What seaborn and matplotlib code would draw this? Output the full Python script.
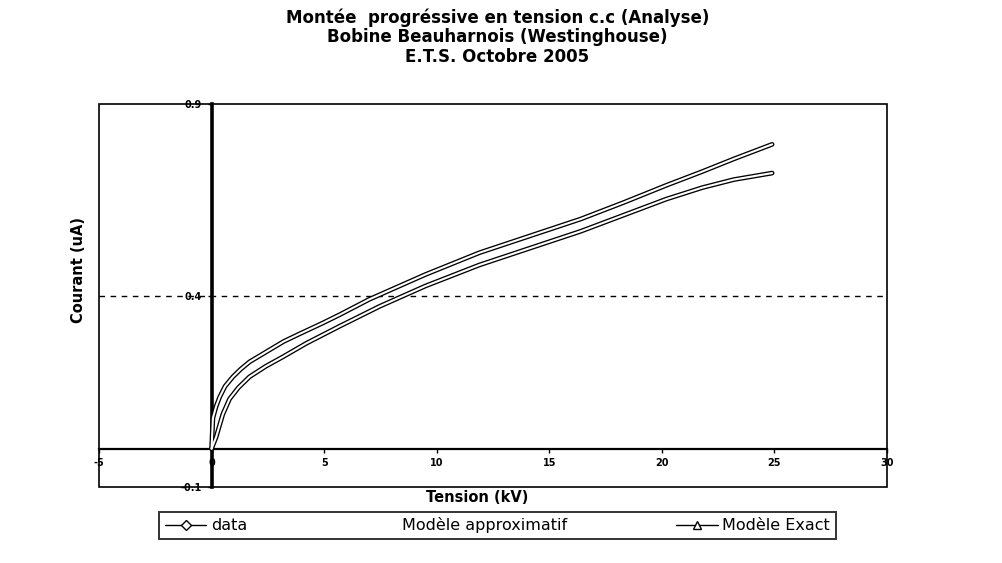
import numpy as np
import pandas as pd
import matplotlib
matplotlib.use("Agg")
import matplotlib.pyplot as plt
import seaborn as sns
from matplotlib.lines import Line2D
from matplotlib.patches import Rectangle

# values
tension_data = [0, 0.06, 0.2, 0.36, 0.6, 0.95, 1.3, 1.69, 2.43, 3.2, 3.91, 4.93,
                5.69, 7.0, 9.5, 11.9, 14.2, 16.4, 18.3, 20.2, 21.8, 23.2, 24.9]
courant_data = [0.0, 0.08, 0.11, 0.135, 0.163, 0.188, 0.208, 0.227, 0.253, 0.28,
                0.30, 0.328, 0.35, 0.39, 0.455, 0.512, 0.557, 0.60, 0.643, 0.688,
                0.724, 0.757, 0.795]
tension_exact = [0, 0.2, 0.5, 0.8, 1.2, 1.69, 2.4, 3.17, 4.2, 5.69, 7.47, 9.5,
                 11.9, 14.2, 16.4, 18.3, 20.2, 21.8, 23.2, 24.9]
courant_exact = [0.0, 0.03, 0.09, 0.13, 0.16, 0.188, 0.215, 0.24, 0.275, 0.32,
                 0.372, 0.425, 0.48, 0.525, 0.568, 0.61, 0.652, 0.682, 0.703, 0.72]
x_ticks = [-5, 0, 5, 10, 15, 20, 25, 30]
y_ticks = [-0.1, 0.4, 0.9]

df_data = pd.DataFrame({"Tension": tension_data, "Courant": courant_data})
df_exact = pd.DataFrame({"Tension": tension_exact, "Courant": courant_exact})

sns.set_style("white")
plt.rcParams['font.family'] = ['DejaVu Sans']
plt.rcParams['text.color'] = 'black'
plt.rcParams['xtick.color'] = 'black'
plt.rcParams['ytick.color'] = 'black'

fig = plt.figure(figsize=(10.03, 5.63), dpi=100)
ax = fig.add_axes([0.0987, 0.135, 0.7856, 0.68])

# hollow "tube" look of the scanned lines: black stroke, white core
for d in [df_exact, df_data]:
    sns.lineplot(data=d, x="Tension", y="Courant", ax=ax, color="black", lw=3.4,
                 solid_capstyle="round", solid_joinstyle="round", zorder=3)
    sns.lineplot(data=d, x="Tension", y="Courant", ax=ax, color="white", lw=1.5,
                 solid_capstyle="round", solid_joinstyle="round", zorder=4)

ax.set_xlim(-5, 30)
ax.set_ylim(-0.1, 0.9)
ax.axhline(0.4, color="black", lw=1, ls=(0, (4, 4)), zorder=1)

# axes crossing at zero, like Excel
ax.spines["left"].set_position(("data", 0))
ax.spines["bottom"].set_position(("data", 0))
ax.spines["left"].set_linewidth(2.6)
ax.spines["bottom"].set_linewidth(1.6)
ax.spines["left"].set_color("black")
ax.spines["bottom"].set_color("black")
ax.spines["top"].set_visible(False)
ax.spines["right"].set_visible(False)
ax.add_patch(Rectangle((0, 0), 1, 1, transform=ax.transAxes, fill=False,
                       ec="black", lw=1.2, zorder=5, clip_on=False))

ax.set_xticks(x_ticks)
ax.set_xticklabels([str(t) for t in x_ticks])
ax.set_yticks(y_ticks)
ax.set_yticklabels(["-0.1", "0.4", "0.9"])
ax.tick_params(axis="both", which="both", direction="out", length=3, width=1,
               labelsize=7, pad=4, bottom=True, left=True)
for lab in ax.get_xticklabels() + ax.get_yticklabels():
    lab.set_fontweight("bold")

ax.set_xlabel("")
ax.set_ylabel("")
fig.text(0.078, 0.52, "Courant (uA)", rotation=90, ha="center", va="center",
         fontsize=10.5, fontweight="bold")
fig.text(0.476, 0.117, "Tension (kV)", ha="center", va="center",
         fontsize=10.5, fontweight="bold")

fig.text(0.496, 0.968, "Montée  progréssive en tension c.c (Analyse)", ha="center",
         va="center", fontsize=12, fontweight="bold")
fig.text(0.496, 0.934, "Bobine Beauharnois (Westinghouse)", ha="center",
         va="center", fontsize=12, fontweight="bold")
fig.text(0.496, 0.899, "E.T.S. Octobre 2005", ha="center",
         va="center", fontsize=12, fontweight="bold")

handles = [
    Line2D([], [], color="black", lw=1, marker="D", markersize=5,
           markerfacecolor="white", markeredgecolor="black"),
    Line2D([], [], color="white", lw=1),
    Line2D([], [], color="black", lw=1, marker="^", markersize=6,
           markerfacecolor="white", markeredgecolor="black"),
]
leg = fig.legend(handles, ["data", "Modèle approximatif", "Modèle Exact"],
                 loc="center", bbox_to_anchor=(0.496, 0.067), ncol=3,
                 fontsize=11.5, frameon=True, fancybox=False, handlelength=2.6,
                 columnspacing=6.8, borderpad=0.35, handletextpad=0.3)
leg.get_frame().set_edgecolor("black")
leg.get_frame().set_linewidth(1.4)

fig.savefig("out.png", dpi=100)
